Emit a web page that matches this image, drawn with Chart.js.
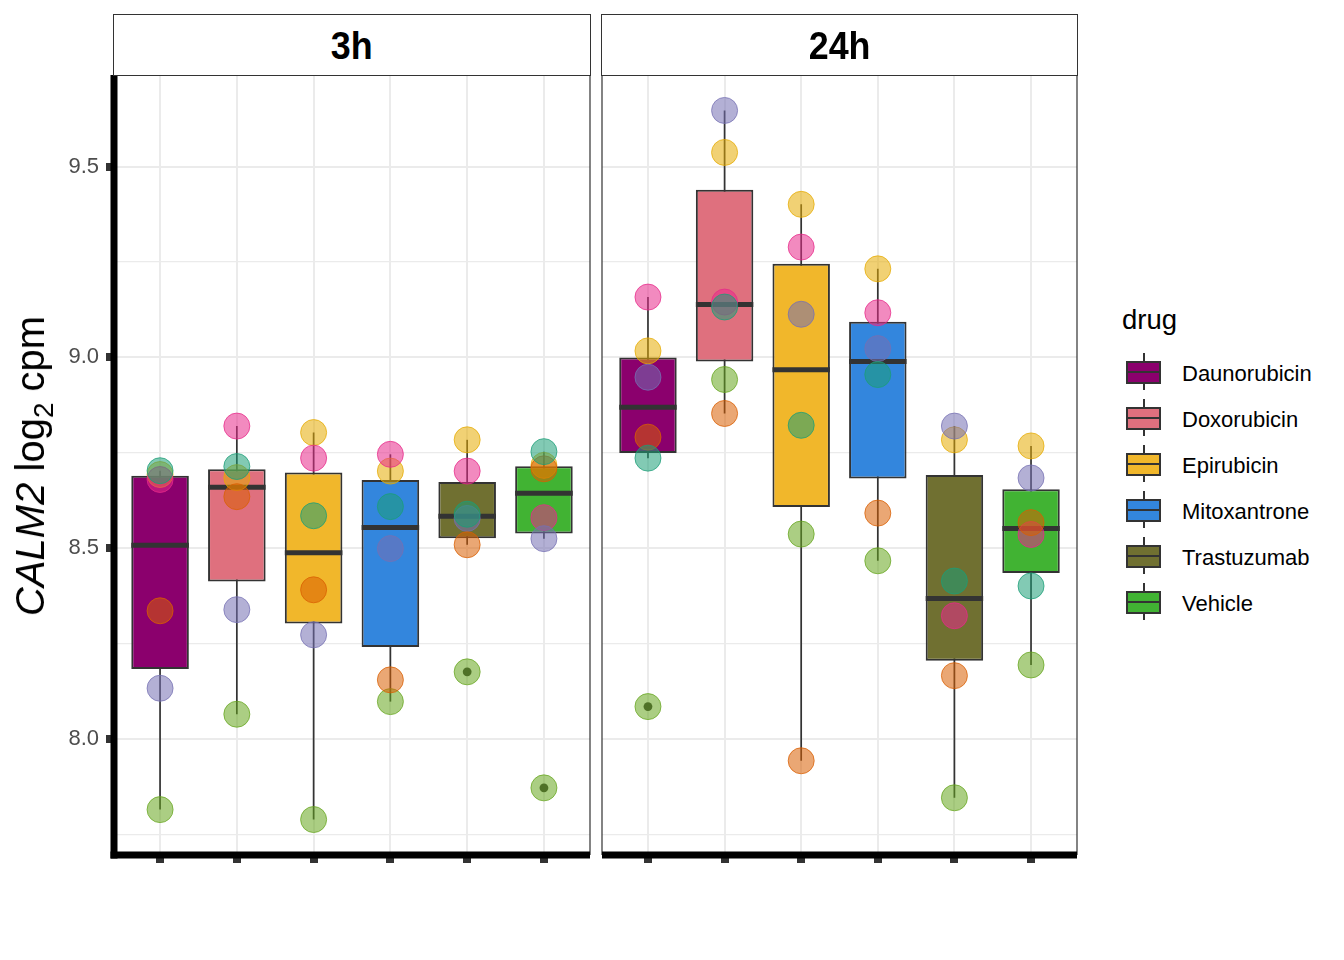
<!DOCTYPE html>
<html>
<head>
<meta charset="utf-8">
<script src="https://cdn.jsdelivr.net/npm/chart.js@4.4.1/dist/chart.umd.min.js"></script>
<style>
html,body{margin:0;padding:0;background:#fff;}
body{width:1344px;height:960px;position:relative;overflow:hidden;font-family:'Liberation Sans',Arial,sans-serif;}
canvas{position:absolute;top:0;}
.strip{position:absolute;box-sizing:border-box;border:1.2px solid #333;background:#fff;display:flex;align-items:center;justify-content:center;font-weight:bold;font-size:39px;color:#000;line-height:1;}
.strip span{display:inline-block;transform:scaleX(0.92);padding-top:2px;}
#ytitle{position:absolute;left:30px;top:466px;transform:translate(-50%,-50%) rotate(-90deg);font-size:40px;line-height:40px;white-space:nowrap;color:#000;}
#ytitle sub{font-size:28px;line-height:0;vertical-align:baseline;position:relative;top:9px;}
.lg{position:absolute;}
</style>
</head>
<body>
<canvas id="c3h" width="610" height="960" style="left:0px;width:610px;height:960px"></canvas>
<canvas id="c24h" width="518" height="960" style="left:582px;width:518px;height:960px"></canvas>
<div id="ytitle"><i>CALM2</i> log<sub>2</sub> cpm</div>
<div id="legend"></div>
<script>
// ---------------- data ----------------
const drugs = ['Daunorubicin','Doxorubicin','Epirubicin','Mitoxantrone','Trastuzumab','Vehicle'];
const drugColors = ['#8B006D','#DF707E','#F1B72B','#3386DD','#707031','#41B333'];
const timeLabels = ['3h','24h'];
const individuals = ['ind1','ind2','ind3','ind4','ind5','ind6'];
const indColors = ['#1B9E77','#D95F02','#7570B3','#E7298A','#66A61E','#E6AB02'];

// values per individual, one entry per drug (order of drugs)
const ind1_3h = [8.703, 8.714, 8.585, 8.609, 8.589, 8.753];
const ind2_3h = [8.336, 8.635, 8.391, 8.155, 8.509, 8.708];
const ind3_3h = [8.133, 8.339, 8.273, 8.499, 8.578, 8.525];
const ind4_3h = [8.680, 8.820, 8.736, 8.746, 8.702, 8.580];
const ind5_3h = [7.815, 8.065, 7.789, 8.098, 8.176, 7.872];
const ind6_3h = [8.693, 8.685, 8.803, 8.702, 8.784, 8.717];

const ind1_24h = [8.736, 9.132, 8.822, 8.955, 8.414, 8.401];
const ind2_24h = [8.791, 8.853, 7.943, 8.592, 8.166, 8.567];
const ind3_24h = [8.948, 9.647, 9.113, 9.023, 8.820, 8.684];
const ind4_24h = [9.158, 9.145, 9.289, 9.117, 8.323, 8.536];
const ind5_24h = [8.085, 8.942, 8.537, 8.467, 7.846, 8.194];
const ind6_24h = [9.017, 9.537, 9.401, 9.232, 8.784, 8.768];

const yMajorTicks = [8.0, 8.5, 9.0, 9.5];
const yMinorTicks = [7.75, 8.25, 8.75, 9.25];

const panel3h = [ind1_3h, ind2_3h, ind3_3h, ind4_3h, ind5_3h, ind6_3h];
const panel24h = [ind1_24h, ind2_24h, ind3_24h, ind4_24h, ind5_24h, ind6_24h];

// ---------------- helpers ----------------
const FONT = "'Liberation Sans', Arial, sans-serif";
Chart.defaults.font.family = FONT;
const BOX_W = 0.75; // box width in category units

function rgba(hex, a){
  const n = parseInt(hex.slice(1),16);
  return `rgba(${(n>>16)&255},${(n>>8)&255},${n&255},${a})`;
}
function quantile(s, p){
  const h = (s.length-1)*p, lo = Math.floor(h), hi = Math.min(lo+1, s.length-1);
  return s[lo] + (h-lo)*(s[hi]-s[lo]);
}
function boxStats(vals){
  const s = vals.slice().sort((a,b)=>a-b);
  const q1 = quantile(s,0.25), med = quantile(s,0.5), q3 = quantile(s,0.75);
  const iqr = q3-q1, lf = q1-1.5*iqr, uf = q3+1.5*iqr;
  const inside = s.filter(v=>v>=lf && v<=uf);
  return {q1, med, q3, lo: inside[0], hi: inside[inside.length-1], out: s.filter(v=>v<lf||v>uf)};
}
const allVals = panel3h.concat(panel24h).flat();
const vMin = Math.min(...allVals), vMax = Math.max(...allVals);
const yMin = vMin - 0.05*(vMax-vMin), yMax = vMax + 0.05*(vMax-vMin);

// panel frame (thin) and thick axis lines
const AXW = 7;
const framePlugin = {
  id: 'frame',
  afterDraw(chart, args, opts){
    const {ctx, chartArea: a} = chart;
    ctx.save();
    ctx.strokeStyle = '#333'; ctx.lineWidth = 1.2;
    ctx.beginPath();
    ctx.moveTo(a.left, a.top); ctx.lineTo(a.right, a.top); ctx.lineTo(a.right, a.bottom);
    if (!opts.yaxis) { ctx.moveTo(a.left, a.top); ctx.lineTo(a.left, a.bottom); }
    ctx.stroke();
    ctx.fillStyle = '#000';
    if (opts.yaxis) ctx.fillRect(a.left - AXW/2, a.top, AXW, a.bottom - a.top + AXW/2);
    const x0 = opts.yaxis ? a.left - AXW/2 : a.left;
    ctx.fillRect(x0, a.bottom - AXW/2, a.right - x0, AXW);
    ctx.restore();
  }
};

function makePanel(canvasId, panelVals, showY, pad){
  const perDrug = drugs.map((d,i)=>panelVals.map(arr=>arr[i]));
  const stats = perDrug.map(boxStats);
  const datasets = [];
  panelVals.forEach((arr,k)=>{
    datasets.push({
      type:'scatter', label: individuals[k], order: 0,
      data: arr.map((v,i)=>({x:i+1, y:v})),
      backgroundColor: rgba(indColors[k],0.55),
      borderColor: rgba(indColors[k],0.75),
      borderWidth: 1, pointRadius: 13, pointHoverRadius: 13
    });
  });
  const outs = [];
  stats.forEach((s,i)=>s.out.forEach(v=>outs.push({x:i+1, y:v})));
  datasets.push({type:'scatter', label:'outliers', order:1, data: outs,
    backgroundColor:'#333', borderWidth:0, pointRadius:4.4});
  datasets.push({type:'scatter', label:'median', order:2,
    data: stats.map((s,i)=>({x:i+1, y:s.med})),
    pointStyle:'line', borderColor:'#333', backgroundColor:'#333', borderWidth:5,
    pointRadius:(c)=>{const xs=c.chart.scales.x; return Math.abs(xs.getPixelForValue(1+BOX_W/2)-xs.getPixelForValue(1));}
  });
  datasets.push({type:'bar', label:'box', order:3, grouped:false,
    data: stats.map((s,i)=>({x:i+1, y:[s.q1, s.q3]})),
    backgroundColor: drugColors, borderColor:'#333', borderWidth:2, borderSkipped:false,
    barPercentage: BOX_W, categoryPercentage: 1
  });
  datasets.push({type:'bar', label:'whisker', order:4, grouped:false,
    data: stats.map((s,i)=>({x:i+1, y:[s.lo, s.hi]})),
    backgroundColor:'#333', borderWidth:0, maxBarThickness:1.7
  });
  const isMajor = (v)=>yMajorTicks.some(t=>Math.abs(t-v)<1e-9);
  return new Chart(document.getElementById(canvasId), {
    type:'bar',
    data:{datasets},
    options:{
      responsive:false, animation:false, events:[],
      layout:{padding:pad},
      plugins:{legend:{display:false}, tooltip:{enabled:false}, frame:{yaxis:showY}},
      scales:{
        x:{type:'linear', min:0.4, max:6.6, offset:false,
          afterBuildTicks:(s)=>{ s.ticks = drugs.map((d,i)=>({value:i+1})); },
          afterFit:(s)=>{ s.height = 105; },
          ticks:{display:false},
          grid:{color:'#EBEBEB', lineWidth:2, offset:false, drawTicks:true, tickLength:8, tickWidth:8, tickColor:'#333'},
          border:{display:false}
        },
        y:{type:'linear', min:yMin, max:yMax,
          afterBuildTicks:(s)=>{ s.ticks = yMajorTicks.concat(yMinorTicks).sort((a,b)=>a-b).map(v=>({value:v})); },
          afterFit:(s)=>{ s.width = showY ? 114 : 0; },
          ticks:{display:showY, autoSkip:false, padding:7, color:'#4D4D4D', font:{size:22, family:FONT},
            callback:(v)=>isMajor(v) ? v.toFixed(1) : ''},
          grid:{color:'#EBEBEB', lineWidth:(c)=>isMajor(c.tick.value)?2:1.2, drawTicks:showY, tickLength:8, tickWidth:8,
            tickColor:(c)=>isMajor(c.tick.value)?'#333':'rgba(0,0,0,0)'},
          border:{display:false}
        }
      }
    },
    plugins:[framePlugin]
  });
}

// panel areas in page pixels: 3h 114..590, 24h 602..1077
function fitArea(chart, offset, L, R){
  for (let it=0; it<4; it++){
    const a = chart.chartArea, p = chart.options.layout.padding;
    const dl = (L - offset) - a.left, dr = a.right - (R - offset);
    if (Math.abs(dl) < 0.01 && Math.abs(dr) < 0.01) break;
    p.left += dl; p.right += dr;
    chart.update();
  }
}
const ch3 = makePanel('c3h', panel3h, true, {top:75, left:0, right:20, bottom:0});
const ch24 = makePanel('c24h', panel24h, false, {top:75, left:20, right:23, bottom:0});
fitArea(ch3, 0, 114, 590);
fitArea(ch24, 582, 602, 1077);

// facet strips
[[ch3,0,timeLabels[0]],[ch24,582,timeLabels[1]]].forEach(([ch,off,lab])=>{
  const a = ch.chartArea;
  const d = document.createElement('div');
  d.className = 'strip';
  d.style.left = (off + a.left - 0.6) + 'px';
  d.style.top = '14px';
  d.style.width = (a.right - a.left + 1.2) + 'px';
  d.style.height = (a.top - 14 + 0.6) + 'px';
  const sp = document.createElement('span'); sp.textContent = lab; d.appendChild(sp);
  document.body.appendChild(d);
});

// legend
const lg = document.getElementById('legend');
function add(html, css){ const d=document.createElement('div'); d.className='lg'; d.innerHTML=html; Object.assign(d.style, css); lg.appendChild(d); return d; }
add('drug', {left:'1122px', top:'306px', fontSize:'27.5px', lineHeight:'27.5px', color:'#000'});
drugs.forEach((name,i)=>{
  const c = 372.3 + 46*i;
  add('', {left:'1142.5px', top:(c-19)+'px', width:'2px', height:'37px', background:'#333'});
  add('<div style="position:absolute;left:0;right:0;top:8.5px;height:2px;background:#333"></div>',
      {left:'1126px', top:(c-11.5)+'px', width:'35px', height:'23px', boxSizing:'border-box', border:'2px solid #333', background:drugColors[i]});
  add(name, {left:'1182px', top:(c-9.5)+'px', fontSize:'22px', lineHeight:'22px', color:'#000', whiteSpace:'nowrap'});
});
</script>
</body>
</html>
